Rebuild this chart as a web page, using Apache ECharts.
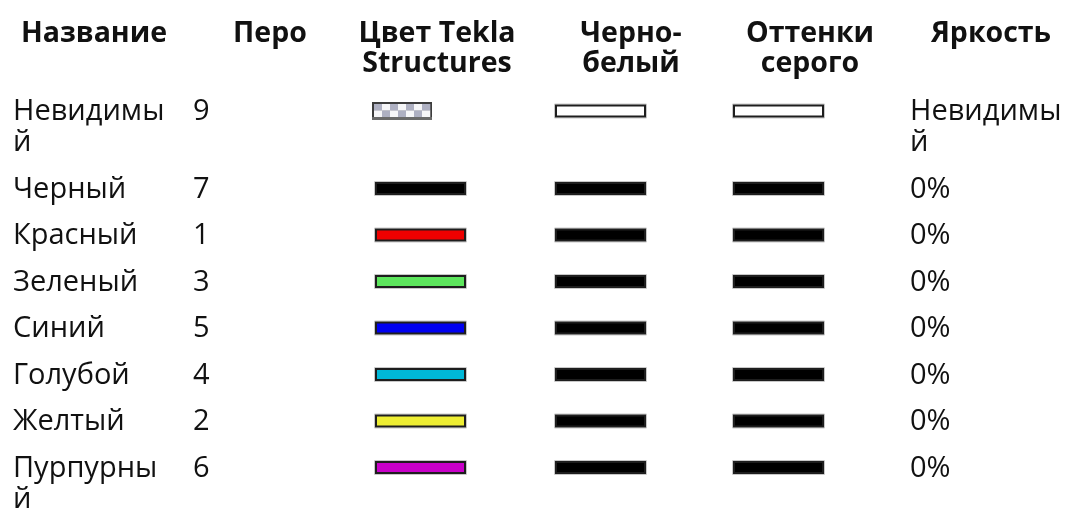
<!DOCTYPE html>
<html>
<head>
<meta charset="utf-8">
<script src="https://cdn.jsdelivr.net/npm/echarts@6/dist/echarts.min.js"></script>
<style>
html,body{margin:0;padding:0;background:#fff;}
#chart{width:1065px;height:516px;}
</style>
</head>
<body>
<div id="chart"></div>
<script>
// ---- data ----
const headers = ['Название', 'Перо', 'Цвет Tekla\nStructures', 'Черно-\nбелый', 'Оттенки\nсерого', 'Яркость'];
const names = ['Невидимый', 'Черный', 'Красный', 'Зеленый', 'Синий', 'Голубой', 'Желтый', 'Пурпурный'];
const pens = [9, 7, 1, 3, 5, 4, 2, 6];
const teklaColors = ['invisible', '#000000', '#ee0000', '#5de65d', '#0000f0', '#00b8d8', '#eeee33', '#c800c8'];
const bwColors = ['#ffffff', '#000000', '#000000', '#000000', '#000000', '#000000', '#000000', '#000000'];
const greyColors = ['#ffffff', '#000000', '#000000', '#000000', '#000000', '#000000', '#000000', '#000000'];
const brightness = ['Невидимый', '0%', '0%', '0%', '0%', '0%', '0%', '0%'];

// ---- layout ----
const FONT_FAMILY = '"Open Sans", "Noto Sans", sans-serif';
const BODY_SIZE = 29, HEAD_SIZE = 28.5;
const bodyFont = BODY_SIZE + 'px ' + FONT_FAMILY;
const headFont = 'bold ' + HEAD_SIZE + 'px ' + FONT_FAMILY;
const LINE_H = 31, PAD = 15.5, FIRST_TOP = 88.75;
const HEAD_LINE_H = 30, HEAD_TOP = 19;
const colText = {name: 13, pen: 193, tekla: 375, bw: 555, grey: 733, bright: 910};
const headCenters = [94, 270, 437, 631, 810, 991];
const NAME_W = 158, BRIGHT_W = 156;
const SW_W = 91, SW_H = 13;

const ctx = document.createElement('canvas').getContext('2d');
function wrap(text, font, maxW) {
  ctx.font = font;
  const lines = [];
  let cur = '';
  for (const ch of String(text)) {
    if (cur && ctx.measureText(cur + ch).width > maxW) { lines.push(cur); cur = ch; }
    else cur += ch;
  }
  if (cur) lines.push(cur);
  return lines;
}
const nameLines = names.map(n => wrap(n, bodyFont, NAME_W));
const brightLines = brightness.map(b => wrap(b, bodyFont, BRIGHT_W));
const rowTops = [];
let t = FIRST_TOP;
names.forEach((n, i) => {
  rowTops.push(t);
  const lines = Math.max(nameLines[i].length, brightLines[i].length);
  t += lines * LINE_H + PAD;
});

function swatch(api, x, yc, color) {
  const p = api.coord([x, yc - SW_H / 2]);
  return {
    type: 'group', children: [
      {type: 'rect', shape: {x: p[0] - 0.5, y: p[1] - 0.5, width: SW_W + 1, height: SW_H + 1},
       style: {fill: 'none', stroke: '#c8c8c8', lineWidth: 1}},
      {type: 'rect', shape: {x: p[0] + 1, y: p[1] + 1, width: SW_W - 2, height: SW_H - 2},
       style: {fill: color, stroke: '#1e1e1e', lineWidth: 2}}
    ]
  };
}
function checker(api, x, yc) {
  const w = 60, h = 18;
  const p = api.coord([x, yc - h / 2]);
  const kids = [{type: 'rect', shape: {x: p[0], y: p[1], width: w, height: h}, style: {fill: '#3c3c3c'}}];
  const ix = p[0] + 2, iy = p[1] + 2, iw = w - 4, ih = h - 5;
  const cols = 7, sw = iw / cols, sh = ih / 2;
  for (let r = 0; r < 2; r++) {
    for (let c = 0; c < cols; c++) {
      const gray = (r + c) % 2 === 0;
      kids.push({type: 'rect', shape: {x: ix + c * sw, y: iy + r * sh, width: sw + 0.3, height: sh + 0.3},
                 style: {fill: gray ? '#aeb0c2' : '#f6f6f8'}});
    }
  }
  kids.push({type: 'rect', shape: {x: p[0], y: p[1] + h - 3, width: w, height: 3}, style: {fill: '#6a6a6a'}});
  return {type: 'group', children: kids};
}

const chart = echarts.init(document.getElementById('chart'), null, {renderer: 'canvas'});
chart.setOption({
  backgroundColor: '#ffffff',
  animation: false,
  grid: {left: 0, top: 0, right: 0, bottom: 0},
  xAxis: {type: 'value', min: 0, max: 1065, show: false},
  yAxis: {type: 'value', min: 0, max: 516, inverse: true, show: false},
  series: [
    {
      type: 'custom',
      silent: true,
      data: headers.map((h, i) => [i]),
      renderItem: function (params, api) {
        const i = api.value(0);
        const p = api.coord([headCenters[i], HEAD_TOP]);
        return {
          type: 'text',
          style: {text: headers[i], x: p[0], y: p[1], font: headFont, fill: '#111',
                  align: 'center', verticalAlign: 'top', lineHeight: HEAD_LINE_H}
        };
      }
    },
    {
      type: 'custom',
      silent: true,
      data: names.map((n, i) => [i]),
      renderItem: function (params, api) {
        const i = api.value(0);
        const top = rowTops[i] + PAD / 2;
        const yc = top + LINE_H / 2;
        const barC = yc - 1;
        const txt = (s, x) => {
          const p = api.coord([x, top]);
          return {type: 'text', style: {text: s, x: p[0], y: p[1], font: bodyFont, fill: '#111',
                  align: 'left', verticalAlign: 'top', lineHeight: LINE_H}};
        };
        const kids = [
          txt(nameLines[i].join('\n'), colText.name),
          txt(String(pens[i]), colText.pen),
          txt(brightLines[i].join('\n'), colText.bright)
        ];
        if (teklaColors[i] === 'invisible') kids.push(checker(api, colText.tekla - 3, barC));
        else kids.push(swatch(api, colText.tekla, barC, teklaColors[i]));
        kids.push(swatch(api, colText.bw, barC, bwColors[i]));
        kids.push(swatch(api, colText.grey, barC, greyColors[i]));
        return {type: 'group', children: kids};
      }
    }
  ]
});
</script>
</body>
</html>
